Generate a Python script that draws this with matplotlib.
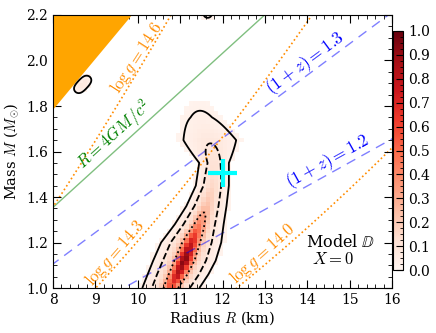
import numpy as np
import matplotlib
matplotlib.use('Agg')
import matplotlib.pyplot as plt

plt.rcParams['font.family'] = 'DejaVu Serif'
plt.rcParams['mathtext.fontset'] = 'cm'

GM_KM = 1.4766       # G Msun / c^2 in km
GM_CGS = 1.32712e26  # G Msun in cgs

# posterior ridge (mass, ridge radius, core + wing profile)
ridge_M = [1.00, 1.06, 1.12, 1.20, 1.28, 1.36, 1.45, 1.55, 1.65, 1.75, 1.85]
ridge_R = [10.78, 10.95, 11.10, 11.26, 11.45, 11.62, 11.76, 11.80, 11.70, 11.50, 11.40]
core_amp = [0.35, 0.60, 0.73, 0.55, 0.25, 0.08, 0.03, 0.01, 0.0, 0.0, 0.0]
core_width = [0.12, 0.12, 0.124, 0.12, 0.11, 0.10, 0.10, 0.10, 0.10, 0.10, 0.10]
wing_amp = [0.20, 0.23, 0.23, 0.22, 0.18, 0.15, 0.12, 0.10, 0.075, 0.032, 0.008]
wing_width = [0.33, 0.34, 0.35, 0.34, 0.29, 0.25, 0.22, 0.21, 0.42, 0.36, 0.30]

# small isolated islands of probability
island_R = [8.60, 8.70, 8.80, 11.65]
island_M = [1.875, 1.895, 1.915, 2.205]
island_amp = [0.045, 0.05, 0.045, 0.045]

# contour levels (outer solid, dashed, inner dotted)
levels = [0.025, 0.08, 0.3]

# reference lines
logg_levels = [14.0, 14.3, 14.6]
redshift_levels = [1.2, 1.3]
causal_factor = 3.03
shadow_factor = 4.0

# measurement cross
cross_R, cross_dR = 12.0, 0.335
cross_M, cross_dM = 1.505, 0.06


def density(R, M):
    rc = np.interp(M, ridge_M, ridge_R)
    a = np.interp(M, ridge_M, core_amp, right=0)
    s = np.interp(M, ridge_M, core_width)
    b = np.interp(M, ridge_M, wing_amp, right=0)
    w = np.interp(M, ridge_M, wing_width)
    d = R - rc
    z = a * np.exp(-d**2 / (2 * s**2)) + b * np.exp(-d**2 / (2 * w**2))
    for ri, mi, ai in zip(island_R, island_M, island_amp):
        z += ai * np.exp(-((R - ri) / 0.09)**2 / 2 - ((M - mi) / 0.016)**2 / 2)
    return z


def logg(R, M):
    Rcm = R * 1e5
    return np.log10(GM_CGS * M / Rcm**2 / np.sqrt(1 - 2 * GM_KM * M / R))


fig = plt.figure(figsize=(4.36, 3.33), dpi=100)
ax = fig.add_axes([0.1216, 0.135, 0.7775, 0.82])
cax = fig.add_axes([0.902, 0.189, 0.023, 0.718])

# 2D histogram, empty cells left white
R_edges = np.arange(8.0, 16.001, 0.1)
M_edges = np.arange(1.0, 2.2001, 0.02)
Rc, Mc = np.meshgrid(0.5 * (R_edges[1:] + R_edges[:-1]), 0.5 * (M_edges[1:] + M_edges[:-1]))
hist = density(Rc, Mc)
hist = np.ma.masked_less(hist, 0.014)
mesh = ax.pcolormesh(R_edges, M_edges, hist, cmap='Reds', vmin=0, vmax=1, zorder=0)

# credible contours
Rf, Mf = np.meshgrid(np.linspace(8, 16, 801), np.linspace(1.0, 2.2, 601))
ax.contour(Rf, Mf, density(Rf, Mf), levels=levels, colors='k',
           linestyles=['solid', 'dashed', 'dotted'], linewidths=1.3, zorder=3)

# causality region
Mfill = np.linspace(1.0, 2.2, 200)
ax.fill_betweenx(Mfill, 8, causal_factor * GM_KM * Mfill, where=causal_factor * GM_KM * Mfill > 8,
                 color='orange', lw=0, zorder=2)

# R = 4GM/c^2
ax.plot(shadow_factor * GM_KM * Mfill, Mfill, color='g', alpha=0.5, lw=1, zorder=1)

# redshift lines
Rline = np.linspace(7, 17, 300)
for zl in redshift_levels:
    Mz = Rline * (1 - 1 / zl**2) / (2 * GM_KM)
    ax.plot(Rline, Mz, color='b', alpha=0.5, lw=1, ls=(0, (7, 5)), zorder=1)

# log g lines
Mgrid = np.linspace(0.5, 3.0, 2000)
for lg in logg_levels:
    Mg = []
    for r in Rline:
        ok = 2 * GM_KM * Mgrid / r < 0.9
        Mg.append(np.interp(lg, logg(r, Mgrid[ok]), Mgrid[ok]))
    ax.plot(Rline, Mg, color='darkorange', lw=1.2, ls=(0, (1, 1.6)), zorder=1)

ax.errorbar(cross_R, cross_M, xerr=cross_dR, yerr=cross_dM, color='cyan', lw=3, capsize=0, zorder=5)

ax.set_xlim(8, 16)
ax.set_ylim(1.0, 2.2)
ax.set_xticks(np.arange(8, 17, 1))
ax.set_xticks(np.arange(8, 16.01, 0.2), minor=True)
ax.set_yticks(np.arange(1.0, 2.21, 0.2))
ax.set_yticks(np.arange(1.0, 2.21, 0.05), minor=True)
ax.tick_params(which='both', direction='in', top=True, right=True, labelsize=10)
ax.tick_params(which='major', length=6)
ax.tick_params(which='minor', length=3)
ax.set_xlabel('Radius $R$ (km)', fontsize=10.5, labelpad=2)
ax.set_ylabel('Mass $M$ ($M_{\\odot}$)', fontsize=10.5, labelpad=4)

ax.text(9.98, 2.015, '$\\log g = 14.6$', color='darkorange', fontsize=12, rotation=57, ha='center', va='center')
ax.text(9.46, 1.154, '$\\log g = 14.3$', color='darkorange', fontsize=12, rotation=49, ha='center', va='center')
ax.text(12.95, 1.154, '$\\log g = 14.0$', color='darkorange', fontsize=12, rotation=42, ha='center', va='center')
ax.text(9.46, 1.673, '$R = 4GM/c^2$', color='green', fontsize=12, rotation=42, ha='center', va='center')
ax.text(13.97, 1.99, '$(1+z) = 1.3$', color='b', fontsize=12.5, rotation=36.5, ha='center', va='center')
ax.text(14.49, 1.554, '$(1+z) = 1.2$', color='b', fontsize=12.5, rotation=29, ha='center', va='center')
ax.text(14.79, 1.202, 'Model $\\mathbb{D}$', fontsize=11.5, ha='center', va='center')
ax.text(14.6, 1.125, '$X = 0$', fontsize=12, ha='center', va='center')

cb = fig.colorbar(mesh, cax=cax, ticks=np.arange(0, 1.01, 0.1))
cb.ax.set_yticklabels(['%.1f' % t for t in np.arange(0, 1.01, 0.1)])
cb.ax.yaxis.set_ticks(np.arange(0, 1.001, 0.025), minor=True)
cb.ax.tick_params(which='both', direction='in', labelsize=10)
cb.ax.tick_params(which='major', length=5)
cb.ax.tick_params(which='minor', length=2.5)

fig.savefig('out.png', dpi=100)
